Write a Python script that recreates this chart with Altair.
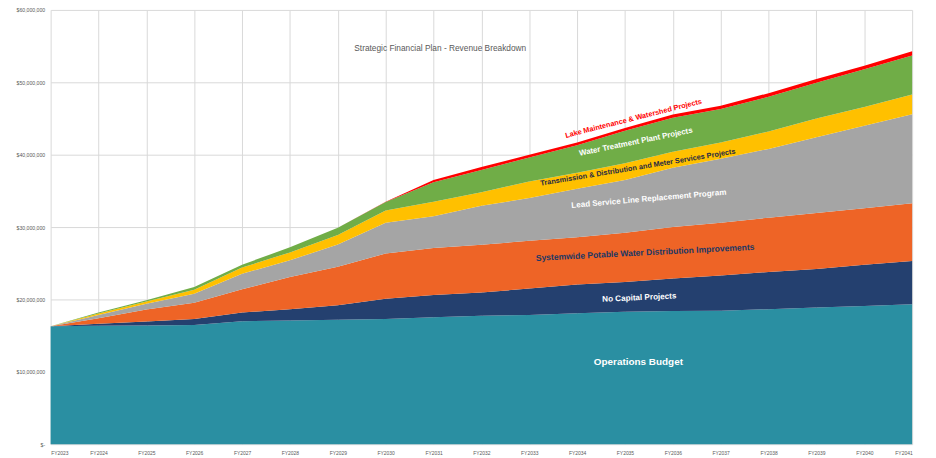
import altair as alt
import pandas as pd

years = list(range(2023, 2042))
series = [
    "Operations Budget",
    "No Capital Projects",
    "Systemwide Potable Water Distribution Improvements",
    "Lead Service Line Replacement Program",
    "Transmission & Distribution and Meter Services Projects",
    "Water Treatment Plant Projects",
    "Lake Maintenance & Watershed Projects",
]
# values in millions of dollars
operations = [16.3, 16.35, 16.4, 16.45, 17.0, 17.1, 17.2, 17.3, 17.55, 17.75, 17.85, 18.1, 18.3, 18.4, 18.45, 18.65, 18.9, 19.1, 19.35]
no_capital = [0, 0.3, 0.55, 0.85, 1.2, 1.55, 2.0, 2.8, 3.05, 3.2, 3.65, 3.95, 4.1, 4.5, 4.85, 5.15, 5.3, 5.7, 5.95]
systemwide = [0, 0.75, 1.65, 2.25, 3.2, 4.45, 5.3, 6.25, 6.5, 6.6, 6.6, 6.55, 6.8, 7.1, 7.3, 7.5, 7.75, 7.8, 8.0]
lead_line = [0, 0.45, 0.8, 1.25, 2.15, 2.3, 3.1, 4.25, 4.4, 5.4, 5.9, 6.7, 7.3, 8.2, 8.85, 9.5, 10.45, 11.4, 12.3]
transmission = [0, 0.2, 0.3, 0.55, 0.85, 1.1, 1.3, 1.7, 2.0, 1.85, 2.3, 2.2, 2.3, 2.2, 2.25, 2.4, 2.6, 2.6, 2.7]
treatment = [0, 0.15, 0.2, 0.35, 0.4, 0.7, 1.0, 1.15, 2.7, 3.1, 3.3, 3.8, 4.5, 4.7, 4.6, 4.8, 4.95, 5.2, 5.4]
lake = [0, 0, 0, 0, 0, 0, 0, 0.05, 0.3, 0.4, 0.4, 0.4, 0.4, 0.45, 0.45, 0.5, 0.5, 0.5, 0.6]

colors = ["#2A8FA2", "#24406F", "#EE6426", "#A5A5A5", "#FFC000", "#70AD47", "#FF0000"]

all_values = [operations, no_capital, systemwide, lead_line, transmission, treatment, lake]
rows = []
for i, (name, vals) in enumerate(zip(series, all_values)):
    for y, v in zip(years, vals):
        rows.append({"year": y, "series": name, "order": i, "value": v * 1e6})
df = pd.DataFrame(rows)

# in-chart labels: anchor year, anchor value (millions)
label_year = [2035.28, 2035.3, 2035.42, 2035.5, 2035.27, 2035.23, 2035.18]
label_value = [11.38, 20.18, 26.5, 33.84, 38.21, 41.73, 44.97]
label_angle = [0, 2.6, 2.9, 4.9, 9.4, 11.6, 14.2]
label_size = [10, 8.2, 8.6, 8.1, 7.4, 7.9, 7.4]
label_color = ["#FFFFFF", "#FFFFFF", "#203864", "#FFFFFF", "#1F2A44", "#FFFFFF", "#FF0000"]

title_text = "Strategic Financial Plan - Revenue Breakdown"
title_year = 2031.14
title_value = 54.78

x_scale = alt.Scale(domain=[2023, 2041], nice=False, zero=False)
y_scale = alt.Scale(domain=[0, 60e6], nice=False)

areas = alt.Chart(df).mark_area(opacity=1, interpolate="linear").encode(
    x=alt.X(
        "year:Q",
        scale=x_scale,
        axis=alt.Axis(
            values=years,
            labelExpr="'FY' + datum.value",
            title=None,
            grid=True,
            gridColor="#D9D9D9",
            domain=False,
            ticks=False,
            labelFontSize=5,
            labelColor="#595959",
            labelPadding=6,
            labelFont="Liberation Sans",
        ),
    ),
    y=alt.Y(
        "value:Q",
        stack="zero",
        scale=y_scale,
        axis=alt.Axis(
            values=[0, 10e6, 20e6, 30e6, 40e6, 50e6, 60e6],
            labelExpr="datum.value == 0 ? '$-' : format(datum.value, '$,.0f')",
            title=None,
            grid=True,
            gridColor="#D9D9D9",
            domain=False,
            ticks=False,
            labelFontSize=5.2,
            labelColor="#595959",
            labelPadding=6,
            labelFont="Liberation Sans",
        ),
    ),
    color=alt.Color("series:N", scale=alt.Scale(domain=series, range=colors), legend=None),
    order=alt.Order("order:Q", sort="ascending"),
)

layers = [areas]
for name, yr, val, ang, sz, col in zip(series, label_year, label_value, label_angle, label_size, label_color):
    ldf = pd.DataFrame({"year": [yr], "value": [val * 1e6], "text": [name]})
    t = alt.Chart(ldf).mark_text(
        font="Liberation Sans",
        fontWeight="bold",
        fontSize=sz,
        color=col,
        angle=(360 - ang) % 360,
        align="center",
        baseline="middle",
    ).encode(x=alt.X("year:Q", scale=x_scale), y=alt.Y("value:Q", scale=y_scale), text="text:N")
    layers.append(t)

tdf = pd.DataFrame({"year": [title_year], "value": [title_value * 1e6], "text": [title_text]})
title = alt.Chart(tdf).mark_text(
    font="Liberation Sans", fontSize=8.4, color="#595959", align="center", baseline="middle"
).encode(x=alt.X("year:Q", scale=x_scale), y=alt.Y("value:Q", scale=y_scale), text="text:N")
layers.append(title)

chart = alt.layer(*layers).properties(
    width=869,
    height=438,
    autosize=alt.AutoSizeParams(type="none"),
    padding={"left": 43, "top": 0, "right": 16, "bottom": 12},
    background="white",
).configure_view(stroke=None)

chart.save("out.html", embed_options={"renderer": "svg", "actions": False})
